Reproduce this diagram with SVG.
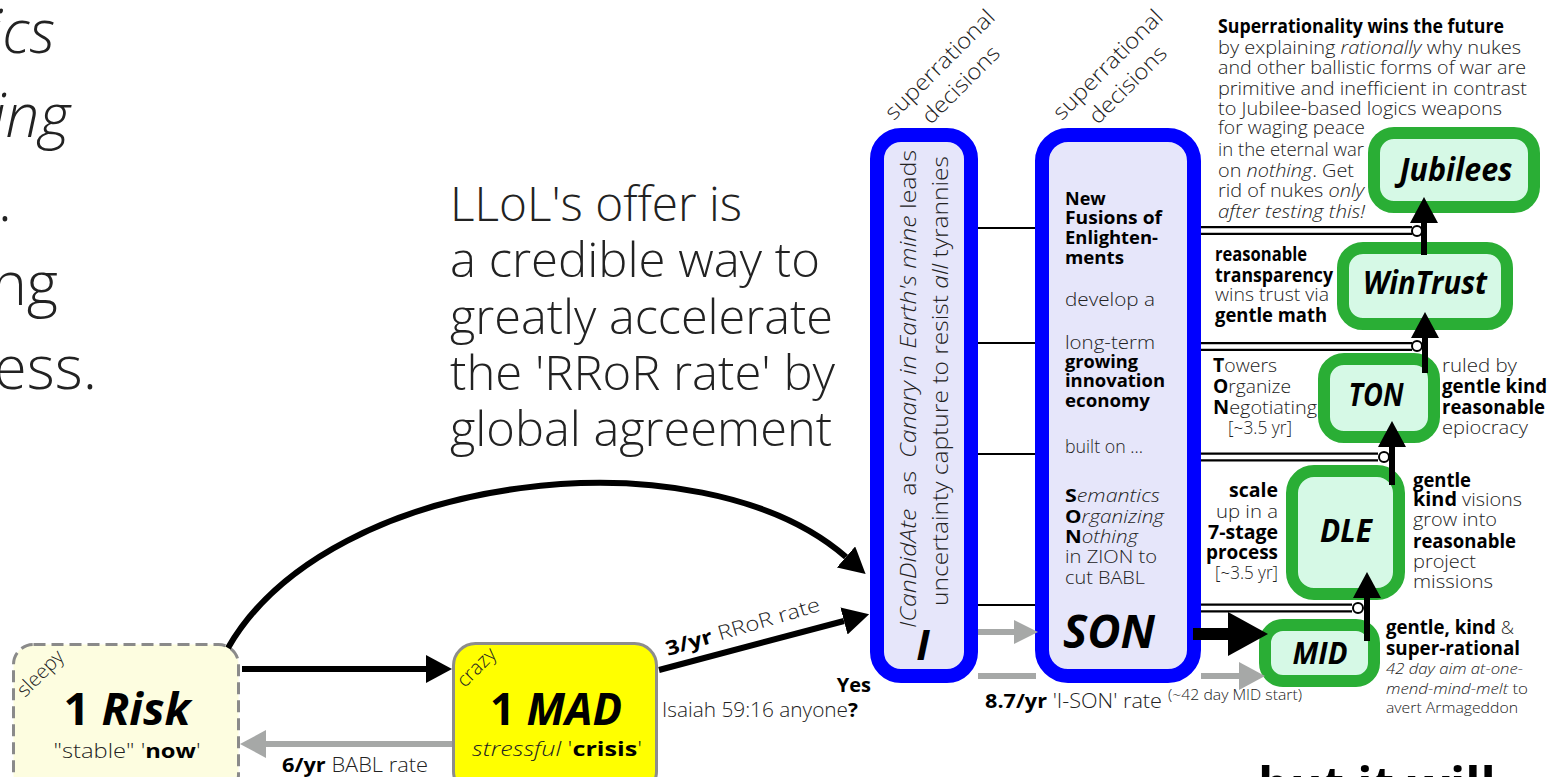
<svg xmlns="http://www.w3.org/2000/svg" width="1549" height="777" viewBox="0 0 1549 777">
<style>
text{font-family:'Open Sans','Noto Sans','DejaVu Sans',sans-serif;fill:#222;font-weight:300}
.b{font-weight:700;fill:#000}
.i{font-style:italic}
.big{font-size:60px}
.mid{font-size:48px}
.t22{font-size:22px}
.t20{font-size:20px}
.t19{font-size:19px}
.t18{font-size:18px}
.t15{font-size:15px}
.t14{font-size:14px}
.lbl{font-weight:700;font-style:italic;fill:#000}
.green{fill:#d6f9e6;stroke:#2aae35;stroke-width:12}
.blue{fill:#e6e6fa;stroke:#0000ff;stroke-width:14}
.blk{stroke:#000;fill:none}
.gry{stroke:#a6a8a7;fill:none}
.thin{stroke:#000;stroke-width:2;fill:none}
.dblo{stroke:#000;stroke-width:9;fill:none}
.dbli{stroke:#fff;stroke-width:4.5;fill:none}
.ring{fill:#fff;stroke:#000;stroke-width:2}
</style>
<defs>
<marker id="ahb" markerUnits="userSpaceOnUse" markerWidth="26" markerHeight="28" refX="0" refY="14" orient="auto"><path d="M0,0 L26,14 L0,28 Z" fill="#000"/></marker>
<marker id="ahg" markerUnits="userSpaceOnUse" markerWidth="26" markerHeight="28" refX="0" refY="14" orient="auto"><path d="M0,0 L26,14 L0,28 Z" fill="#a6a8a7"/></marker>
<marker id="ahgs" markerUnits="userSpaceOnUse" markerWidth="24" markerHeight="24" refX="0" refY="12" orient="auto"><path d="M0,0 L24,12 L0,24 Z" fill="#a6a8a7"/></marker>
<marker id="ahbig" markerUnits="userSpaceOnUse" markerWidth="40" markerHeight="44" refX="0" refY="22" orient="auto"><path d="M0,0 L40,22 L0,44 Z" fill="#000"/></marker>
</defs>

<!-- cropped text at left -->
<g id="left-text">
<text class="big i" x="55" y="53" text-anchor="end">ics</text>
<text class="big i" x="70" y="137" text-anchor="end">ing</text>
<text class="big" x="12" y="221" text-anchor="end">.</text>
<text class="big" x="58" y="305" text-anchor="end">ng</text>
<text class="big" x="97" y="389" text-anchor="end">ess.</text>
</g>

<g id="offer-text">
<text class="mid" x="450" y="221" textLength="292" lengthAdjust="spacingAndGlyphs">LLoL's offer is</text>
<text class="mid" x="450" y="277" textLength="370" lengthAdjust="spacingAndGlyphs">a credible way to</text>
<text class="mid" x="450" y="334" textLength="383" lengthAdjust="spacingAndGlyphs">greatly accelerate</text>
<text class="mid" x="450" y="390" textLength="385" lengthAdjust="spacingAndGlyphs">the 'RRoR rate' by</text>
<text class="mid" x="450" y="446" textLength="382" lengthAdjust="spacingAndGlyphs">global agreement</text>
</g>

<g id="node-risk">
<rect x="13.5" y="644.5" width="225" height="150" rx="20" fill="#fdfde0" stroke="#8a8a8a" stroke-width="3" stroke-dasharray="12 6"/>
<text class="t20" transform="translate(45,678) rotate(-45)" text-anchor="middle">sleepy</text>
<text x="127" y="725" text-anchor="middle" class="b" style="font-size:44px" textLength="127" lengthAdjust="spacingAndGlyphs">1 <tspan class="i">Risk</tspan></text>
<text class="t20" x="127" y="758" text-anchor="middle" textLength="147" lengthAdjust="spacingAndGlyphs">"stable" '<tspan class="b">now</tspan>'</text>
</g>

<g id="node-mad">
<rect x="453.5" y="643.5" width="203" height="150" rx="22" fill="#ffff00" stroke="#8c8c8c" stroke-width="3"/>
<text class="t20" transform="translate(481,672) rotate(-45)" text-anchor="middle">crazy</text>
<text x="556" y="725" text-anchor="middle" class="b" style="font-size:44px" textLength="132" lengthAdjust="spacingAndGlyphs">1 <tspan class="i">MAD</tspan></text>
<text class="t20" x="557" y="756" text-anchor="middle" textLength="170" lengthAdjust="spacingAndGlyphs"><tspan class="i">stressful</tspan> '<tspan class="b">crisis</tspan>'</text>
</g>

<g id="node-i">
<text class="t22" transform="translate(945,70) rotate(-45)" text-anchor="middle" textLength="145" lengthAdjust="spacingAndGlyphs">superrational</text>
<text class="t22" transform="translate(966,90) rotate(-45)" text-anchor="middle" textLength="100" lengthAdjust="spacingAndGlyphs">decisions</text>
<rect class="blue" x="877" y="135" width="94" height="541" rx="24"/>
<text style="font-size:22px;white-space:pre" transform="translate(916,389) rotate(-90)" text-anchor="middle" textLength="478" lengthAdjust="spacingAndGlyphs"><tspan class="i">ICanDidAte</tspan>  as  <tspan class="i">Canary in Earth's mine</tspan> leads</text>
<text style="font-size:22px" transform="translate(948,381) rotate(-90)" text-anchor="middle" textLength="450" lengthAdjust="spacingAndGlyphs">uncertainty capture to resist <tspan class="i">all</tspan> tyrannies</text>
<text class="lbl" style="font-size:42px" x="923" y="660" text-anchor="middle">I</text>
</g>

<g id="node-son">
<text class="t22" transform="translate(1113,70) rotate(-45)" text-anchor="middle" textLength="145" lengthAdjust="spacingAndGlyphs">superrational</text>
<text class="t22" transform="translate(1133,90) rotate(-45)" text-anchor="middle" textLength="100" lengthAdjust="spacingAndGlyphs">decisions</text>
<rect class="blue" x="1042" y="135" width="152" height="541" rx="26"/>
<text class="b t18" x="1065" y="205">New</text>
<text class="b t18" x="1065" y="224" textLength="97" lengthAdjust="spacingAndGlyphs">Fusions of</text>
<text class="b t18" x="1065" y="244" textLength="93" lengthAdjust="spacingAndGlyphs">Enlighten-</text>
<text class="b t18" x="1065" y="264" textLength="59" lengthAdjust="spacingAndGlyphs">ments</text>
<text class="t18" x="1065" y="306" textLength="90" lengthAdjust="spacingAndGlyphs">develop a</text>
<text class="t18" x="1065" y="349" textLength="90" lengthAdjust="spacingAndGlyphs">long-term</text>
<text class="b t18" x="1065" y="368" textLength="73" lengthAdjust="spacingAndGlyphs">growing</text>
<text class="b t18" x="1065" y="387" textLength="100" lengthAdjust="spacingAndGlyphs">innovation</text>
<text class="b t18" x="1065" y="407" textLength="85" lengthAdjust="spacingAndGlyphs">economy</text>
<text class="t18" x="1065" y="453" textLength="78" lengthAdjust="spacingAndGlyphs">built on ...</text>
<text class="t18" x="1065" y="502" textLength="95" lengthAdjust="spacingAndGlyphs"><tspan class="b">S</tspan><tspan class="i">emantics</tspan></text>
<text class="t18" x="1065" y="523" textLength="99" lengthAdjust="spacingAndGlyphs"><tspan class="b">O</tspan><tspan class="i">rganizing</tspan></text>
<text class="t18" x="1065" y="543" textLength="73" lengthAdjust="spacingAndGlyphs"><tspan class="b">N</tspan><tspan class="i">othing</tspan></text>
<text class="t18" x="1065" y="563" textLength="92" lengthAdjust="spacingAndGlyphs">in ZION to</text>
<text class="t18" x="1065" y="584" textLength="80" lengthAdjust="spacingAndGlyphs">cut BABL</text>
<text class="lbl" style="font-size:46px" x="1109" y="648" text-anchor="middle" textLength="92" lengthAdjust="spacingAndGlyphs">SON</text>
</g>

<g id="node-jubilees">
<rect class="green" x="1374" y="133" width="160" height="74" rx="20"/>
<text class="lbl" style="font-size:32px" x="1456" y="181" text-anchor="middle" textLength="113" lengthAdjust="spacingAndGlyphs">Jubilees</text>
</g>
<g id="node-wintrust">
<rect class="green" x="1343" y="248" width="164" height="76" rx="20"/>
<text class="lbl" style="font-size:32px" x="1425" y="294" text-anchor="middle" textLength="124" lengthAdjust="spacingAndGlyphs">WinTrust</text>
</g>
<g id="node-ton">
<rect class="green" x="1324" y="359" width="110" height="78" rx="20"/>
<text class="lbl" style="font-size:32px" x="1376" y="406" text-anchor="middle" textLength="55" lengthAdjust="spacingAndGlyphs">TON</text>
</g>
<g id="node-dle">
<rect class="green" x="1292" y="471" width="107" height="123" rx="22"/>
<text class="lbl" style="font-size:32px" x="1346" y="542" text-anchor="middle" textLength="52" lengthAdjust="spacingAndGlyphs">DLE</text>
</g>
<g id="node-mid">
<rect class="green" x="1265" y="625" width="109" height="56" rx="18"/>
<text class="lbl" style="font-size:30px" x="1320" y="664" text-anchor="middle" textLength="55" lengthAdjust="spacingAndGlyphs">MID</text>
</g>

<g id="notes">
<text class="b t19" x="1218" y="33" textLength="286" lengthAdjust="spacingAndGlyphs">Superrationality wins the future</text>
<text class="t19" x="1218" y="54" textLength="303" lengthAdjust="spacingAndGlyphs">by explaining <tspan class="i">rationally</tspan> why nukes</text>
<text class="t19" x="1218" y="74" textLength="308" lengthAdjust="spacingAndGlyphs">and other ballistic forms of war are</text>
<text class="t19" x="1218" y="95" textLength="309" lengthAdjust="spacingAndGlyphs">primitive and inefficient in contrast</text>
<text class="t19" x="1218" y="115" textLength="284" lengthAdjust="spacingAndGlyphs">to Jubilee-based logics weapons</text>
<text class="t19" x="1218" y="134" textLength="147" lengthAdjust="spacingAndGlyphs">for waging peace</text>
<text class="t19" x="1218" y="156" textLength="146" lengthAdjust="spacingAndGlyphs">in the eternal war</text>
<text class="t19" x="1218" y="177" textLength="136" lengthAdjust="spacingAndGlyphs">on <tspan class="i">nothing</tspan>. Get</text>
<text class="t19" x="1218" y="197" textLength="146" lengthAdjust="spacingAndGlyphs">rid of nukes <tspan class="i">only</tspan></text>
<text class="t19 i" x="1218" y="218" textLength="147" lengthAdjust="spacingAndGlyphs">after testing this!</text>

<text class="b t19" x="1215" y="261" textLength="92" lengthAdjust="spacingAndGlyphs">reasonable</text>
<text class="b t19" x="1215" y="282" textLength="118" lengthAdjust="spacingAndGlyphs">transparency</text>
<text class="t19" x="1215" y="301" textLength="114" lengthAdjust="spacingAndGlyphs">wins trust via</text>
<text class="b t19" x="1215" y="322" textLength="112" lengthAdjust="spacingAndGlyphs">gentle math</text>

<text class="t19" x="1213" y="372" textLength="64" lengthAdjust="spacingAndGlyphs"><tspan class="b">T</tspan>owers</text>
<text class="t19" x="1213" y="393" textLength="78" lengthAdjust="spacingAndGlyphs"><tspan class="b">O</tspan>rganize</text>
<text class="t19" x="1213" y="414" textLength="104" lengthAdjust="spacingAndGlyphs"><tspan class="b">N</tspan>egotiating</text>
<text class="t18" x="1228" y="434" textLength="64" lengthAdjust="spacingAndGlyphs">[~3.5 yr]</text>

<text class="t19" x="1442" y="372" textLength="75" lengthAdjust="spacingAndGlyphs">ruled by</text>
<text class="b t19" x="1442" y="393" textLength="105" lengthAdjust="spacingAndGlyphs">gentle kind</text>
<text class="b t19" x="1442" y="414" textLength="103" lengthAdjust="spacingAndGlyphs">reasonable</text>
<text class="t19" x="1442" y="434" textLength="86" lengthAdjust="spacingAndGlyphs">epiocracy</text>

<text class="b t19" x="1278" y="497" text-anchor="end" textLength="49" lengthAdjust="spacingAndGlyphs">scale</text>
<text class="t19" x="1278" y="518" text-anchor="end" textLength="62" lengthAdjust="spacingAndGlyphs">up in a</text>
<text class="b t19" x="1278" y="539" text-anchor="end" textLength="70" lengthAdjust="spacingAndGlyphs">7-stage</text>
<text class="b t19" x="1278" y="559" text-anchor="end" textLength="72" lengthAdjust="spacingAndGlyphs">process</text>
<text class="t18" x="1278" y="579" text-anchor="end" textLength="63" lengthAdjust="spacingAndGlyphs">[~3.5 yr]</text>

<text class="b t19" x="1413" y="487" textLength="58" lengthAdjust="spacingAndGlyphs">gentle</text>
<text class="t19" x="1413" y="506" textLength="109" lengthAdjust="spacingAndGlyphs"><tspan class="b">kind</tspan> visions</text>
<text class="t19" x="1413" y="526" textLength="84" lengthAdjust="spacingAndGlyphs">grow into</text>
<text class="b t19" x="1413" y="548" textLength="103" lengthAdjust="spacingAndGlyphs">reasonable</text>
<text class="t19" x="1413" y="568" textLength="63" lengthAdjust="spacingAndGlyphs">project</text>
<text class="t19" x="1413" y="588" textLength="80" lengthAdjust="spacingAndGlyphs">missions</text>

<text class="t19" x="1386" y="634" textLength="128" lengthAdjust="spacingAndGlyphs"><tspan class="b">gentle, kind</tspan> &amp;</text>
<text class="b t19" x="1386" y="655" textLength="134" lengthAdjust="spacingAndGlyphs">super-rational</text>
<text class="t15 i" x="1386" y="674" textLength="137" lengthAdjust="spacingAndGlyphs">42 day aim at-one-</text>
<text class="t15" x="1386" y="694" textLength="142" lengthAdjust="spacingAndGlyphs"><tspan class="i">mend-mind-melt</tspan> to</text>
<text class="t15" x="1386" y="713" textLength="132" lengthAdjust="spacingAndGlyphs">avert Armageddon</text>

<text class="b" style="font-size:50px" x="1258" y="803">but it will</text>
</g>

<g id="connectors">
<path class="blk" stroke-width="6" d="M242,669 H426" marker-end="url(#ahb)"/>
<path class="gry" stroke-width="6" d="M452,744 H266" marker-end="url(#ahg)"/>
<text class="t20" x="282" y="772" textLength="146" lengthAdjust="spacingAndGlyphs"><tspan class="b">6/yr</tspan> BABL rate</text>
<path class="blk" stroke-width="6" d="M228,648 C330,470 700,430 846,557" marker-end="url(#ahb)"/>
<path class="blk" stroke-width="6" d="M659,670 L844,621" marker-end="url(#ahb)"/>
<text class="t20" transform="translate(668,656) rotate(-16.5)" textLength="160" lengthAdjust="spacingAndGlyphs"><tspan class="b">3/yr</tspan> RRoR rate</text>
<text class="b t20" x="871" y="692" text-anchor="end">Yes</text>
<text class="t20" x="662" y="717" textLength="196" lengthAdjust="spacingAndGlyphs">Isaiah 59:16 anyone<tspan class="b">?</tspan></text>
<path class="gry" stroke-width="6" d="M978,632 H1014" marker-end="url(#ahgs)"/>
<path class="gry" stroke-width="6" d="M978,676 H1036 M1201,676 H1239" marker-end="url(#ahg)"/>
<text class="t20" x="985" y="708" textLength="177" lengthAdjust="spacingAndGlyphs"><tspan class="b">8.7/yr</tspan> 'I-SON' rate</text>
<text class="t14" x="1168" y="700" textLength="134" lengthAdjust="spacingAndGlyphs">(~42 day MID start)</text>
<path class="blk" stroke-width="12" d="M1193,634 H1228" marker-end="url(#ahbig)"/>
<path class="thin" d="M978,228 H1035 M978,343 H1035 M978,454 H1035 M978,605 H1035"/>
<path class="dblo" d="M1201,230.5 H1412 M1201,346.5 H1412 M1201,457 H1378 M1201,608 H1352"/>
<path class="dbli" d="M1201,230.5 H1413 M1201,346.5 H1413 M1201,457 H1379 M1201,608 H1353"/>
<circle class="ring" cx="1417" cy="231" r="5"/>
<circle class="ring" cx="1417" cy="346" r="5"/>
<circle class="ring" cx="1384" cy="457" r="5"/>
<circle class="ring" cx="1358" cy="608" r="5"/>
<path class="blk" stroke-width="6" d="M1367,641 V598" marker-end="url(#ahb)"/>
<path class="blk" stroke-width="6" d="M1392,485 V447" marker-end="url(#ahb)"/>
<path class="blk" stroke-width="6" d="M1425,373 V338" marker-end="url(#ahb)"/>
<path class="blk" stroke-width="6" d="M1424,255 V223" marker-end="url(#ahb)"/>
</g>
</svg>
